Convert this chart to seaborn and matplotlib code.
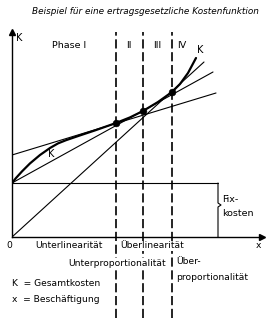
import matplotlib
matplotlib.use("Agg")
import matplotlib.pyplot as plt
import seaborn as sns
import pandas as pd

# ---- data (arbitrary units) ----
curve_x = [0, 0.2, 0.5, 0.9, 1.4, 1.9, 2.3, 2.7, 3.4, 4.15, 5.2, 5.9, 6.55, 7.3, 8.0, 8.4, 8.8, 9.2]
curve_k = [2.7, 2.95, 3.28, 3.68, 4.1, 4.45, 4.68, 4.84, 5.08, 5.33, 5.7, 5.98, 6.3, 6.75, 7.25, 7.65, 8.2, 8.95]
phase_bounds = [5.2, 6.55, 8.0]
phase_k = [5.7, 6.3, 7.25]
fixed_cost = 2.7
fixed_end = 10.3
tangent_infl_x = [0, 10.2]
tangent_infl_y = [4.1, 7.2]
fix_ray_x = [0, 10.05]
fix_ray_y = [2.7, 8.25]
origin_ray_x = [0, 9.6]
origin_ray_y = [0, 8.75]
phase_labels = ["Phase I", "II", "III", "IV"]

W, H = 274, 320
sns.set_theme(style="white")
plt.rcParams["font.family"] = ["DejaVu Sans"]

fig = plt.figure(figsize=(W / 100, H / 100), dpi=100)
fig.patch.set_facecolor("white")
# axes: data origin at px (12, 237); 20 px per unit
ax = fig.add_axes([12 / W, (H - 237) / H, 250 / W, 205 / H])
ax.set_xlim(0, 12.5)
ax.set_ylim(0, 10.25)
ax.set_facecolor("white")
for s in ["top", "right"]:
    ax.spines[s].set_visible(False)
for s in ["left", "bottom"]:
    ax.spines[s].set_color("black")
    ax.spines[s].set_linewidth(1.0)
ax.set_xticks([])
ax.set_yticks([])
ax.plot(1, 0, ">", color="black", ms=4, transform=ax.transAxes, clip_on=False)
ax.plot(0, 1, "^", color="black", ms=4, transform=ax.transAxes, clip_on=False)

lw_thin = 0.8
# dashed phase boundaries (extend below the axis)
for xb in phase_bounds:
    ax.plot([xb, xb], [-4.05, 10.25], color="black", lw=1.2,
            linestyle=(0, (5.5, 2.2)), clip_on=False, zorder=1)

# fixed costs
ax.plot([0, fixed_end], [fixed_cost, fixed_cost], color="black", lw=lw_thin)
ax.plot([fixed_end, fixed_end, fixed_end + 0.15, fixed_end, fixed_end],
        [fixed_cost, 1.7, 1.6, 1.5, 0], color="black", lw=lw_thin)

# straight lines
ax.plot(tangent_infl_x, tangent_infl_y, color="black", lw=lw_thin)
ax.plot(fix_ray_x, fix_ray_y, color="black", lw=lw_thin)
ax.plot(origin_ray_x, origin_ray_y, color="black", lw=lw_thin)

# cost curve
df = pd.DataFrame({"x": curve_x, "K": curve_k})
sns.lineplot(data=df, x="x", y="K", ax=ax, color="black", lw=1.6, sort=False)
sns.scatterplot(x=phase_bounds, y=phase_k, ax=ax, color="black", s=24,
                edgecolor="black", zorder=5)
ax.set_xlabel("")
ax.set_ylabel("")

def T(px, py, s, ha="left", va="center", size=6.6, bg=False, **kw):
    bbox = dict(facecolor="white", edgecolor="none", pad=0.6) if bg else None
    fig.text(px / W, 1 - py / H, s, ha=ha, va=va, fontsize=size, color="black",
             bbox=bbox, **kw)

T(145, 12, "Beispiel für eine ertragsgesetzliche Kostenfunktion", ha="center",
  size=6.4, style="italic")
T(16, 38, "K", size=7)
T(52, 45, phase_labels[0], size=6.8)
T(129, 45, phase_labels[1], ha="center", size=6.8)
T(157, 45, phase_labels[2], ha="center", size=6.8)
T(182, 45, phase_labels[3], ha="center", size=6.8)
T(200, 50, "K", ha="center", size=7)
T(51, 154, "K", ha="center", size=7)
T(222, 200, "Fix-", size=6.8)
T(222, 214, "kosten", size=6.8)
T(9, 246, "0", ha="center", size=6.6)
T(258, 246, "x", ha="center", size=6.6)
T(35, 246, "Unterlinearität", size=6.6)
T(120, 246, "Überlinearität", size=6.6, bg=True)
T(166, 263, "Unterproportionalität", ha="right", size=6.6, bg=True)
T(176, 262, "Über-", size=6.6)
T(176, 277, "proportionalität", size=6.6)
T(12, 284, "K  = Gesamtkosten", size=6.6)
T(12, 299, "x  = Beschäftigung", size=6.6)

fig.savefig("out.png", dpi=100, facecolor="white")
